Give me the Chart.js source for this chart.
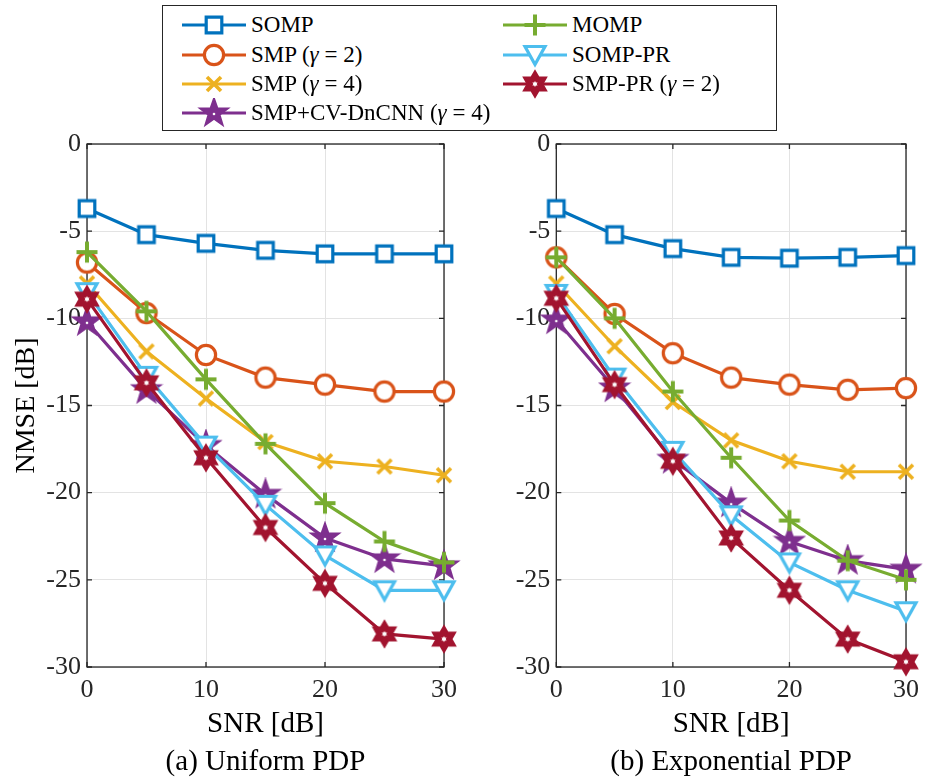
<!DOCTYPE html>
<html>
<head>
<meta charset="utf-8">
<script src="https://cdn.jsdelivr.net/npm/chart.js@4.4.0/dist/chart.umd.min.js"></script>
<style>
  body { margin: 0; background: #fff; width: 927px; height: 778px; position: relative; overflow: hidden;
         font-family: "Liberation Serif", "Times New Roman", serif; }
  canvas.plot { position: absolute; top: 0; }
  #legend { position: absolute; left: 162px; top: 5px; width: 613px; height: 124px;
            border: 1px solid #262626; background: #fff; }
  .sample { position: absolute; width: 64px; height: 30px; display: block; }
  .label { position: absolute; height: 30px; line-height: 30px; font-size: 23px; color: #000; white-space: nowrap; }
</style>
</head>
<body>
<canvas id="chartA" class="plot" width="465" height="778" style="left:0"></canvas>
<canvas id="chartB" class="plot" width="462" height="778" style="left:465px"></canvas>
<div id="legend"></div>
<script>
// data
const snr = [0, 5, 10, 15, 20, 25, 30];
const seriesNames = ["SOMP", "SMP (γ = 2)", "SMP (γ = 4)", "SMP+CV-DnCNN (γ = 4)", "MOMP", "SOMP-PR", "SMP-PR (γ = 2)"];
const seriesColors = ["#0072BD", "#D95319", "#EDB120", "#7E2F8E", "#77AC30", "#4DBEEE", "#A2142F"];
const seriesMarkers = ["square", "circle", "x", "penta", "plus", "tri", "hex"];

// (a) Uniform PDP
const sompA   = [-3.7, -5.2, -5.7, -6.1, -6.3, -6.3, -6.3];
const smp2A   = [-6.8, -9.7, -12.1, -13.4, -13.8, -14.2, -14.2];
const smp4A   = [-8.0, -11.9, -14.6, -17.1, -18.2, -18.5, -19.0];
const cnnA    = [-10.2, -14.1, -17.3, -20.1, -22.6, -23.8, -24.2];
const mompA   = [-6.2, -9.6, -13.5, -17.2, -20.6, -22.8, -24.0];
const sompPrA = [-8.5, -13.3, -17.3, -20.7, -23.6, -25.6, -25.6];
const smpPrA  = [-8.9, -13.7, -18.0, -22.0, -25.2, -28.1, -28.4];

// (b) Exponential PDP
const sompB   = [-3.7, -5.2, -6.0, -6.5, -6.55, -6.5, -6.4];
const smp2B   = [-6.5, -9.75, -12.0, -13.4, -13.8, -14.1, -14.0];
const smp4B   = [-8.0, -11.6, -14.8, -17.0, -18.2, -18.8, -18.8];
const cnnB    = [-10.1, -14.0, -18.1, -20.6, -22.8, -23.9, -24.4];
const mompB   = [-6.5, -10.0, -14.2, -18.0, -21.6, -23.9, -25.0];
const sompPrB = [-8.6, -13.4, -17.6, -21.3, -24.0, -25.6, -26.8];
const smpPrB  = [-8.85, -13.8, -18.2, -22.6, -25.6, -28.4, -29.7];

const xTicksStep = 10;
const yTicksStep = 5;

const FONT = '"Liberation Serif", "Times New Roman", serif';

// marker images (matlab style)
function star(ctx, n, rOut, rIn) {
  ctx.beginPath();
  for (let k = 0; k < 2 * n; k++) {
    const r = k % 2 === 0 ? rOut : rIn;
    const a = -Math.PI / 2 + k * Math.PI / n;
    if (k === 0) ctx.moveTo(r * Math.cos(a), r * Math.sin(a));
    else ctx.lineTo(r * Math.cos(a), r * Math.sin(a));
  }
  ctx.closePath();
}

function makeMarker(kind, color) {
  const s = 34;
  const c = document.createElement("canvas");
  c.width = s; c.height = s;
  const ctx = c.getContext("2d");
  ctx.translate(s / 2, s / 2);
  ctx.strokeStyle = color;
  ctx.fillStyle = "#fff";
  ctx.lineWidth = 3.2;
  ctx.lineJoin = "miter";
  if (kind === "square") {
    ctx.beginPath(); ctx.rect(-7.8, -7.8, 15.6, 15.6); ctx.fill(); ctx.stroke();
  } else if (kind === "circle") {
    ctx.beginPath(); ctx.arc(0, 0, 9.6, 0, Math.PI * 2); ctx.fill(); ctx.stroke();
  } else if (kind === "x") {
    ctx.lineWidth = 3.6;
    ctx.beginPath();
    ctx.moveTo(-7, -7); ctx.lineTo(7, 7); ctx.moveTo(7, -7); ctx.lineTo(-7, 7);
    ctx.stroke();
  } else if (kind === "plus") {
    ctx.lineWidth = 4;
    ctx.beginPath();
    ctx.moveTo(-10.5, 0); ctx.lineTo(10.5, 0); ctx.moveTo(0, -10.5); ctx.lineTo(0, 10.5);
    ctx.stroke();
  } else if (kind === "tri") {
    ctx.beginPath();
    ctx.moveTo(-10, -8.5); ctx.lineTo(10, -8.5); ctx.lineTo(0, 9.5); ctx.closePath();
    ctx.fill(); ctx.stroke();
  } else if (kind === "hex") {
    ctx.fillStyle = color; ctx.lineWidth = 2;
    star(ctx, 6, 12.8, 7.4); ctx.fill(); ctx.stroke();
    ctx.fillStyle = "#fff";
    star(ctx, 6, 3, 1.7); ctx.fill();
  } else if (kind === "penta") {
    ctx.fillStyle = color; ctx.lineWidth = 2;
    star(ctx, 5, 14.5, 5.8); ctx.fill(); ctx.stroke();
    ctx.fillStyle = "#fff";
    ctx.beginPath(); ctx.arc(0, 1, 1.3, 0, Math.PI * 2); ctx.fill();
  }
  return c;
}

const markerImgs = seriesMarkers.map((m, i) => makeMarker(m, seriesColors[i]));

// box + inward ticks like matlab axes
const framePlugin = {
  id: "frame",
  beforeDatasetsDraw(chart) {
    const { ctx, chartArea: a, scales } = chart;
    ctx.save();
    ctx.strokeStyle = "#262626";
    ctx.lineWidth = 1.3;
    ctx.strokeRect(a.left, a.top, a.right - a.left, a.bottom - a.top);
    const t = 5;
    ctx.beginPath();
    scales.x.ticks.forEach(tk => {
      const x = scales.x.getPixelForValue(tk.value);
      ctx.moveTo(x, a.bottom); ctx.lineTo(x, a.bottom - t);
      ctx.moveTo(x, a.top); ctx.lineTo(x, a.top + t);
    });
    scales.y.ticks.forEach(tk => {
      const y = scales.y.getPixelForValue(tk.value);
      ctx.moveTo(a.left, y); ctx.lineTo(a.left + t, y);
      ctx.moveTo(a.right, y); ctx.lineTo(a.right - t, y);
    });
    ctx.stroke();
    ctx.restore();
  }
};

function makeChart(id, sets, caption, yWidth, rightPad, showYTitle) {
  const datasets = sets.map((vals, i) => ({
    label: seriesNames[i],
    data: vals.map((v, j) => ({ x: snr[j], y: v })),
    borderColor: seriesColors[i],
    backgroundColor: seriesColors[i],
    borderWidth: 3.2,
    pointStyle: markerImgs[i],
    pointRadius: 10,
    tension: 0,
    clip: false,
    order: sets.length - i
  }));

  return new Chart(document.getElementById(id), {
    type: "line",
    data: { datasets: datasets },
    options: {
      responsive: false,
      animation: false,
      devicePixelRatio: 1,
      layout: { padding: { left: 0, top: 144, right: rightPad, bottom: 0 } },
      plugins: {
        legend: { display: false },
        tooltip: { enabled: false }
      },
      scales: {
        x: {
          type: "linear",
          min: 0, max: 30,
          ticks: { stepSize: xTicksStep, padding: 8, maxRotation: 0, color: "#262626",
                   font: { family: FONT, size: 26 } },
          grid: { color: "#e3e3e3", drawTicks: false },
          border: { display: false },
          // axis label + sub-caption, centred under the plot area
          title: { display: true, text: ["SNR [dB]", caption], color: "#000",
                   font: { family: FONT, size: 29, lineHeight: 1.33 }, padding: { top: 0, bottom: -4 } },
          afterFit(s) { s.height = 111; }
        },
        y: {
          min: -30, max: 0,
          ticks: { stepSize: yTicksStep, padding: 6, color: "#262626",
                   font: { family: FONT, size: 26 } },
          grid: { color: "#e3e3e3", drawTicks: false },
          border: { display: false },
          title: { display: showYTitle, text: "NMSE [dB]", color: "#000",
                   font: { family: FONT, size: 28 }, padding: { top: 10, bottom: 0 } },
          afterFit(s) { s.width = yWidth; }
        }
      }
    },
    plugins: [framePlugin]
  });
}

makeChart("chartA", [sompA, smp2A, smp4A, cnnA, mompA, sompPrA, smpPrA], "(a) Uniform PDP", 87, 20, true);
makeChart("chartB", [sompB, smp2B, smp4B, cnnB, mompB, sompPrB, smpPrB], "(b) Exponential PDP", 91.3, 15.3, false);

// shared legend, two columns (matlab fills column-wise)
const legend = document.getElementById("legend");
const colLeft = [19, 340];
const rowTop = [4, 34, 63, 92];
seriesNames.forEach((name, i) => {
  const col = i < 4 ? 0 : 1;
  const row = i < 4 ? i : i - 4;
  const cv = document.createElement("canvas");
  cv.className = "sample";
  cv.width = 64; cv.height = 30;
  cv.style.left = colLeft[col] + "px";
  cv.style.top = rowTop[row] + "px";
  const ctx = cv.getContext("2d");
  ctx.strokeStyle = seriesColors[i];
  ctx.lineWidth = 3.2;
  ctx.beginPath(); ctx.moveTo(0, 15); ctx.lineTo(64, 15); ctx.stroke();
  const m = markerImgs[i];
  ctx.drawImage(m, 32 - m.width / 2, 15 - m.height / 2);
  const span = document.createElement("span");
  span.className = "label";
  span.style.left = (colLeft[col] + 69) + "px";
  span.style.top = rowTop[row] + "px";
  span.innerHTML = name.replace("γ", "<i>γ</i>");
  legend.appendChild(cv);
  legend.appendChild(span);
});
</script>
</body>
</html>
